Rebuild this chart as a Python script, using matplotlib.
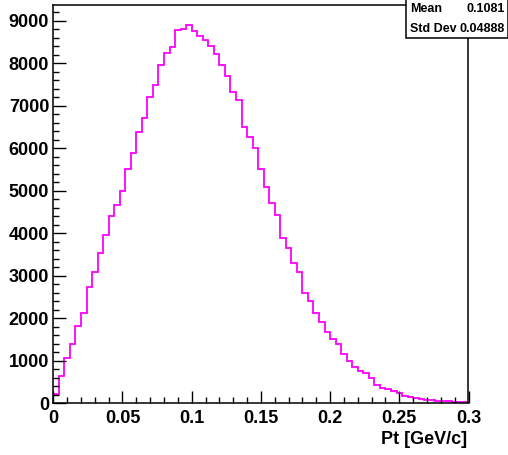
import numpy as np
import matplotlib
matplotlib.use("Agg")
import matplotlib.pyplot as plt
from matplotlib.patches import Rectangle
from matplotlib.ticker import MultipleLocator

# histogram: 75 bins of 0.004 GeV/c from 0 to 0.3
x_min, x_max, n_bins = 0.0, 0.3, 75
counts = [211, 650, 1060, 1400, 1830, 2135, 2742, 3086, 3539, 3969,
          4398, 4656, 5000, 5508, 5898, 6375, 6711, 7211, 7492, 7955,
          8252, 8373, 8788, 8800, 8889, 8753, 8650, 8553, 8412, 8224,
          7948, 7695, 7320, 7133, 6508, 6258, 6016, 5515, 5086, 4711,
          4437, 3898, 3664, 3312, 3078, 2601, 2414, 2118, 1918, 1685,
          1502, 1392, 1150, 1000, 852, 751, 704, 587, 437, 352,
          336, 282, 235, 164, 148, 117, 94, 78, 70, 60,
          54, 47, 40, 30, 25]
stat_names = ["Mean", "Std Dev"]
stat_values = ["0.1081", "0.04888"]
x_title = "Pt [GeV/c]"

edges = np.linspace(x_min, x_max, n_bins + 1)

W, H = 508, 455
fig = plt.figure(figsize=(W / 100, H / 100), dpi=100)
ax = fig.add_axes([53.3 / W, 1 - 403.3 / H, (468.5 - 53.3) / W, (403.3 - 5) / H])

ax.stairs(counts, edges, baseline=0, color="#ff00ff", linewidth=1.3)

ax.set_xlim(x_min, x_max)
ax.set_ylim(0, 9370)

ax.xaxis.set_major_locator(MultipleLocator(0.05))
ax.xaxis.set_minor_locator(MultipleLocator(0.01))
ax.yaxis.set_major_locator(MultipleLocator(1000))
ax.yaxis.set_minor_locator(MultipleLocator(200))
ax.xaxis.set_major_formatter(plt.FuncFormatter(lambda v, p: f"{v:g}"))

ax.tick_params(which="both", direction="in", top=False, right=False, width=1)
ax.tick_params(which="major", length=9)
ax.tick_params(which="minor", length=4.5)
ax.tick_params(axis="x", pad=4.5)
ax.tick_params(axis="y", pad=3)
for lab in ax.get_xticklabels() + ax.get_yticklabels():
    lab.set_fontfamily("Liberation Sans")
    lab.set_fontweight("bold")
    lab.set_fontsize(13)
for s in ax.spines.values():
    s.set_linewidth(1.1)

fig.text(467 / W, 1 - 440 / H, x_title, ha="right", va="center",
         fontfamily="Liberation Sans", fontweight="bold", fontsize=13)

# stats box in the top right corner
box = Rectangle((406 / W, 1 - 37.7 / H), (507.5 - 406) / W, 40 / H,
                transform=fig.transFigure, facecolor="white",
                edgecolor="black", linewidth=1.1, zorder=5)
fig.add_artist(box)
rows_y = [9.5, 28.5]
for name, val, yy in zip(stat_names, stat_values, rows_y):
    fig.text(410 / W, 1 - yy / H, name, ha="left", va="center",
             fontfamily="Liberation Sans", fontweight="bold", fontsize=9, zorder=6)
    fig.text(505 / W, 1 - yy / H, val, ha="right", va="center",
             fontfamily="Liberation Sans", fontweight="bold", fontsize=9, zorder=6)

fig.savefig("out.png", dpi=100)
